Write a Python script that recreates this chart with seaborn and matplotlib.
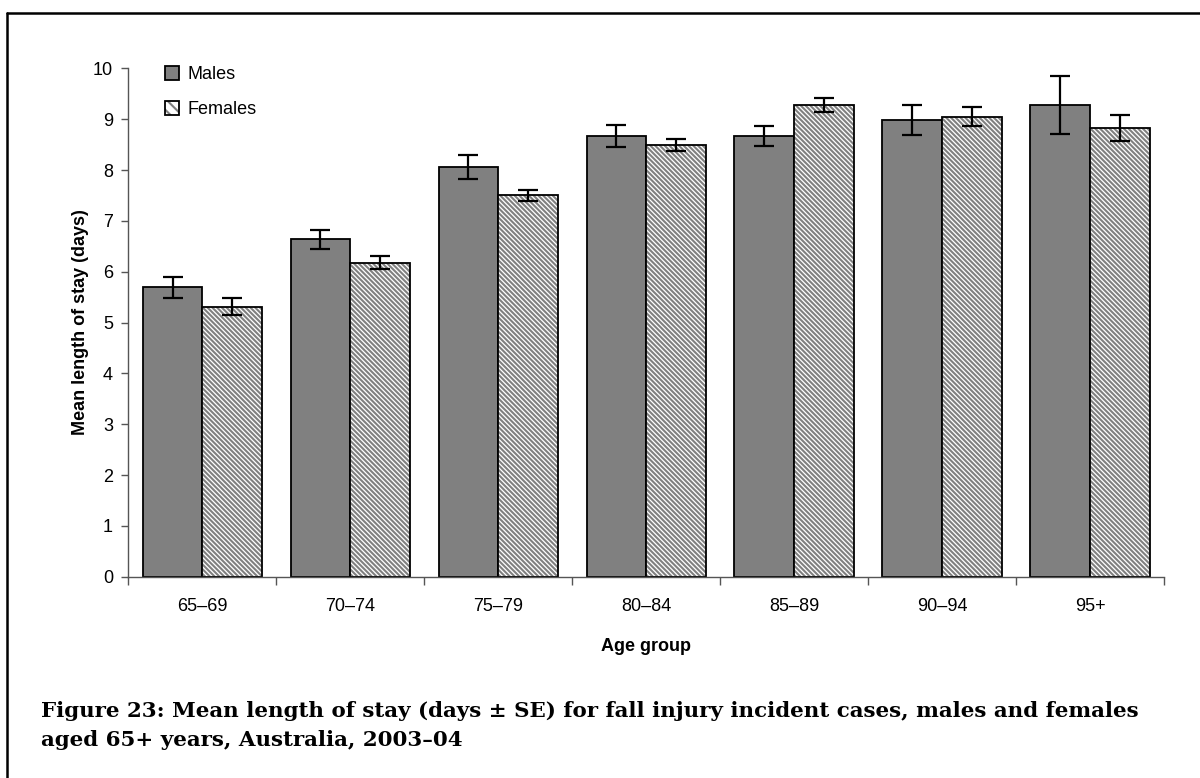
import numpy as np
import pandas as pd
import matplotlib
matplotlib.use('Agg')
import matplotlib.pyplot as plt
from matplotlib.colors import to_rgba
from matplotlib.lines import Line2D
from matplotlib.patches import Patch
import seaborn as sns

# data
age_groups = ['65–69', '70–74', '75–79', '80–84', '85–89', '90–94', '95+']
males = [5.69, 6.64, 8.06, 8.67, 8.67, 8.98, 9.28]
females = [5.31, 6.18, 7.50, 8.49, 9.28, 9.05, 8.83]
males_se = [0.21, 0.19, 0.23, 0.21, 0.19, 0.30, 0.57]
females_se = [0.17, 0.13, 0.11, 0.12, 0.13, 0.19, 0.25]

df = pd.DataFrame({
    'age': age_groups * 2,
    'sex': ['Males'] * len(age_groups) + ['Females'] * len(age_groups),
    'mean': males + females,
    'se': males_se + females_se,
})

sns.set_style('white')
plt.rcParams['font.family'] = ['Liberation Sans', 'DejaVu Sans']
plt.rcParams['text.color'] = 'black'
plt.rcParams['axes.labelcolor'] = 'black'
plt.rcParams['xtick.color'] = 'black'
plt.rcParams['ytick.color'] = 'black'
plt.rcParams['hatch.linewidth'] = 1.5

HATCH = '\\' * 7
GRAY = '#808080'


def gray_hatch(p):
    if hasattr(p, 'set_hatchcolor'):
        p.set_hatchcolor(GRAY)
    else:
        p._hatch_color = to_rgba(GRAY)


fig = plt.figure(figsize=(12, 7.78), dpi=100)
ax = fig.add_axes([0.107, 0.2586, 0.863, 0.6536])

sns.barplot(data=df, x='age', y='mean', hue='sex', order=age_groups,
            hue_order=['Males', 'Females'], palette=[GRAY, 'white'],
            errorbar=None, width=0.807, gap=0, edgecolor='black',
            linewidth=1.3, saturation=1, legend=False, ax=ax)

# hatch the female bars and put the SE bars on
n = len(age_groups)
for i, p in enumerate(ax.patches[:2 * n]):
    row = df.iloc[i]
    if row['sex'] == 'Females':
        p.set_hatch(HATCH)
        gray_hatch(p)
    xc = p.get_x() + p.get_width() / 2
    ax.errorbar(xc, row['mean'], yerr=row['se'], color='black', lw=1.6,
                capsize=7, capthick=1.6, zorder=5)

ax.set_ylim(0, 10)
ax.set_xlim(-0.5, n - 0.5)
ax.set_yticks(range(0, 11))
ax.set_xticks(range(n))
ax.set_xticklabels(age_groups)
ax.set_xticks(np.arange(-0.5, n, 1.0), minor=True)
ax.tick_params(axis='x', which='major', length=0, pad=15, labelsize=13)
ax.tick_params(axis='x', which='minor', length=6, width=1, color='#555555',
               direction='out', bottom=True)
ax.tick_params(axis='y', length=5, width=1, color='#555555', direction='out',
               left=True, labelsize=13, pad=6)

for s in ['top', 'right']:
    ax.spines[s].set_visible(False)
for s in ['left', 'bottom']:
    ax.spines[s].set_color('#555555')
    ax.spines[s].set_linewidth(1)

ax.set_xlabel('Age group', fontsize=13, fontweight='bold', labelpad=17)
ax.set_ylabel('Mean length of stay (days)', fontsize=13, fontweight='bold',
              labelpad=3)

handles = [Patch(facecolor=GRAY, edgecolor='black', lw=1.3),
           Patch(facecolor='white', edgecolor='black', lw=1.3, hatch='\\\\\\')]
leg = ax.legend(handles, ['Males', 'Females'], loc='upper left',
                bbox_to_anchor=(0.02, 1.036), frameon=False, fontsize=13,
                handlelength=0.75, handleheight=0.75, handletextpad=0.5,
                labelspacing=1.0)
gray_hatch(leg.get_patches()[1])

# caption and the frame lines at top and left
fig.text(0.034, 0.036, 'Figure 23: Mean length of stay (days ± SE) for fall injury incident cases, males and females\naged 65+ years, Australia, 2003–04',
         fontsize=15.4, fontweight='bold', family=['DejaVu Serif'],
         linespacing=1.55, va='bottom', ha='left')
fig.add_artist(Line2D([0.006, 1.0], [0.983, 0.983], color='black', lw=1.8,
                      transform=fig.transFigure))
fig.add_artist(Line2D([0.006, 0.006], [0.0, 0.983], color='black', lw=1.8,
                      transform=fig.transFigure))

fig.savefig('out.png', dpi=100)
